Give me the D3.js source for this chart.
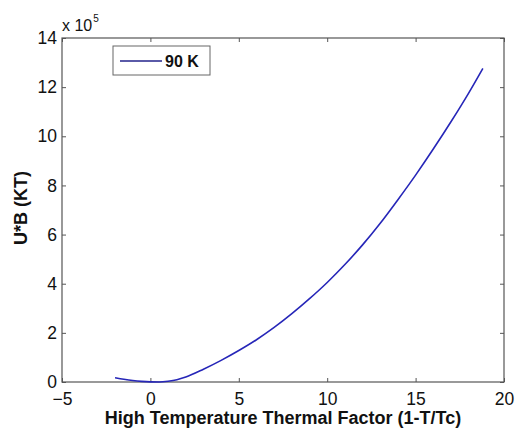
<!DOCTYPE html>
<html>
<head>
<meta charset="utf-8">
<script src="https://cdn.jsdelivr.net/npm/d3@7"></script>
<style>
	body { margin: 0; background: #fff; }
	text { font-family: "Liberation Sans", Arial, sans-serif; }
</style>
</head>
<body>
<div id="chart"></div>
<script>
'use strict';

// values, y in units of 1e5
const thermalFactor = [-2, -1.5, -1, -0.5, 0, 0.5, 1, 1.5, 2, 3, 4, 5, 6, 7, 8, 9, 10, 11, 12, 13, 14, 15, 16, 17, 18, 18.8];
const energy        = [0.17, 0.11, 0.06, 0.025, 0.005, 0, 0.03, 0.09, 0.2, 0.52, 0.88, 1.28, 1.72, 2.22, 2.78, 3.39, 4.05, 4.78, 5.58, 6.46, 7.42, 8.42, 9.48, 10.59, 11.76, 12.76];
const xTicks = [-5, 0, 5, 10, 15, 20];
const yTicks = [0, 2, 4, 6, 8, 10, 12, 14];
const seriesName = "90 K";

const drawChart = () =>
{
	const top    = 38;
	const left   = 62;
	const width  = 442;
	const height = 344;
	const axisColor = "#555";

	const x = d3.scaleLinear().domain([-5, 20]).range([0, width]);
	const y = d3.scaleLinear().domain([0, 14]).range([height, 0]);

	const svg = d3.select("#chart")
		.append("svg")
		.attr("width", 515)
		.attr("height", 432);

	const g = svg.append("g")
		.attr("transform", "translate(" + left + "," + top + ")");

	const styleAxis = (sel, labels) =>
	{
		sel.select(".domain").remove();
		sel.selectAll("line").attr("stroke", axisColor);
		if (labels) sel.selectAll("text").attr("fill", "#111").style("font-size", "17.5px");
		else sel.selectAll("text").remove();
	};

	g.append("g")
		.attr("transform", "translate(0," + height + ")")
		.call(d3.axisBottom(x).tickValues(xTicks).tickSize(-4).tickPadding(11))
		.call(sel => styleAxis(sel, true));

	g.append("g")
		.call(d3.axisTop(x).tickValues(xTicks).tickSize(-4))
		.call(sel => styleAxis(sel, false));

	g.append("g")
		.call(d3.axisLeft(y).tickValues(yTicks).tickSize(-4).tickPadding(5))
		.call(sel => styleAxis(sel, true));

	g.append("g")
		.attr("transform", "translate(" + width + ",0)")
		.call(d3.axisRight(y).tickValues(yTicks).tickSize(-4))
		.call(sel => styleAxis(sel, false));

	g.append("rect")
		.attr("width", width)
		.attr("height", height)
		.attr("fill", "none")
		.attr("stroke", axisColor)
		.attr("stroke-width", 1.2);

	const points = thermalFactor.map((t, i) => [t, energy[i]]);

	g.append("path")
		.datum(points)
		.attr("fill", "none")
		.attr("stroke", "#2626b8")
		.attr("stroke-width", 1.6)
		.attr("d", d3.line().x(d => x(d[0])).y(d => y(d[1])).curve(d3.curveMonotoneX));

	// exponent label
	const expo = svg.append("text")
		.attr("x", 62)
		.attr("y", 31)
		.style("font-size", "16px")
		.attr("fill", "#111")
		.text("x 10");
	expo.append("tspan")
		.attr("dy", -9)
		.attr("dx", 1)
		.style("font-size", "10px")
		.text("5");

	// legend
	const legend = g.append("g").attr("transform", "translate(51,8)");
	legend.append("rect")
		.attr("width", 97)
		.attr("height", 29)
		.attr("fill", "#fff")
		.attr("stroke", "#666")
		.attr("stroke-width", 1);
	legend.append("line")
		.attr("x1", 7).attr("x2", 49)
		.attr("y1", 15).attr("y2", 15)
		.attr("stroke", "#5a5aa8")
		.attr("stroke-width", 2);
	legend.append("text")
		.attr("x", 52)
		.attr("y", 21)
		.style("font-size", "16px")
		.style("font-weight", "bold")
		.attr("fill", "#111")
		.text(seriesName);

	svg.append("text")
		.attr("x", left + width / 2)
		.attr("y", 424)
		.attr("text-anchor", "middle")
		.style("font-size", "18px")
		.style("font-weight", "bold")
		.attr("fill", "#111")
		.text("High Temperature Thermal Factor (1-T/Tc)");

	svg.append("text")
		.attr("transform", "translate(27," + (top + height / 2 - 2) + ") rotate(-90)")
		.attr("text-anchor", "middle")
		.style("font-size", "18px")
		.style("font-weight", "bold")
		.attr("fill", "#111")
		.text("U*B (KT)");
};

document.addEventListener("DOMContentLoaded", drawChart, false);
</script>
</body>
</html>
